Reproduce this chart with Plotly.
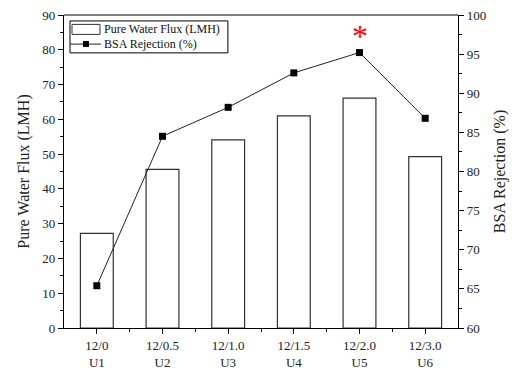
import plotly.graph_objects as go

labels = ["12/0<br>U1", "12/0.5<br>U2", "12/1.0<br>U3", "12/1.5<br>U4", "12/2.0<br>U5", "12/3.0<br>U6"]
flux = [27.2, 45.6, 54.1, 61.0, 66.1, 49.3]
rejection = [65.4, 84.5, 88.2, 92.6, 95.2, 86.8]
legend_names = ["Pure Water Flux (LMH)", "BSA Rejection (%)"]
x = list(range(len(labels)))

FONT = "Liberation Serif, Times New Roman, serif"

fig = go.Figure()
fig.add_trace(go.Bar(
    x=x, y=flux, name=legend_names[0], width=0.5,
    marker=dict(color="white", line=dict(color="#333333", width=1.2)),
))
fig.add_trace(go.Scatter(
    x=x, y=rejection, name=legend_names[1], yaxis="y2",
    mode="lines+markers",
    line=dict(color="#222222", width=1),
    marker=dict(symbol="square", size=7, color="black"),
))

fig.add_annotation(x=4, y=97.3, yref="y2", text="*", showarrow=False,
                   font=dict(color="red", size=32, family=FONT))

# manual compact legend (paper coordinates)
legend_shapes = [
    dict(type="rect", xref="paper", yref="paper", x0=0.0152, x1=0.416, y0=0.879, y1=0.981,
         line=dict(color="black", width=1), fillcolor="white", layer="above"),
    dict(type="rect", xref="paper", yref="paper", x0=0.0203, x1=0.0914, y0=0.938, y1=0.970,
         line=dict(color="#333333", width=1), fillcolor="white", layer="above"),
    dict(type="line", xref="paper", yref="paper", x0=0.0152, x1=0.094, y0=0.907, y1=0.907,
         line=dict(color="#222222", width=1), layer="above"),
    dict(type="rect", xref="paper", yref="paper", x0=0.0482, x1=0.0635, y0=0.898, y1=0.917,
         line=dict(color="black", width=0), fillcolor="black", layer="above"),
]
for name, yy in zip(legend_names, [0.954, 0.907]):
    fig.add_annotation(xref="paper", yref="paper", x=0.0964, y=yy, text=name,
                       showarrow=False, xanchor="left", yanchor="middle",
                       font=dict(size=12, family=FONT, color="#111111"))

fig.update_layout(
    width=516, height=378,
    margin=dict(l=64, r=58, t=15, b=50),
    plot_bgcolor="white", paper_bgcolor="white",
    font=dict(family=FONT, size=13, color="#222222"),
    showlegend=False,
    xaxis=dict(
        range=[-0.5, 5.5], tickvals=x, ticktext=labels, automargin=False,
        showline=True, linecolor="black", linewidth=1.2, mirror=False,
        ticks="outside", ticklen=5, tickcolor="black", showgrid=False, zeroline=False,
        minor=dict(tickvals=[0.5, 1.5, 2.5, 3.5, 4.5], ticks="outside", ticklen=3, tickcolor="black"),
        tickfont=dict(size=13),
    ),
    yaxis=dict(
        range=[0, 90], dtick=10, automargin=False,
        title=dict(text="Pure Water Flux (LMH)", font=dict(size=16), standoff=8),
        showline=True, linecolor="black", linewidth=1.2,
        ticks="outside", ticklen=5, tickcolor="black", showgrid=False, zeroline=False,
        minor=dict(dtick=5, ticks="outside", ticklen=3, tickcolor="black"),
        tickfont=dict(size=13),
    ),
    yaxis2=dict(
        range=[60, 100], dtick=5, overlaying="y", side="right", automargin=False,
        title=dict(text="BSA Rejection (%)", font=dict(size=16), standoff=8),
        showline=True, linecolor="black", linewidth=1.2,
        ticks="outside", ticklen=5, tickcolor="black", showgrid=False, zeroline=False,
        minor=dict(dtick=2.5, ticks="outside", ticklen=3, tickcolor="black"),
        tickfont=dict(size=13),
    ),
    shapes=legend_shapes + [dict(type="line", xref="paper", yref="paper", x0=0, x1=1, y0=1, y1=1,
                 line=dict(color="black", width=1.2))],
)

fig.write_html("out.html")
